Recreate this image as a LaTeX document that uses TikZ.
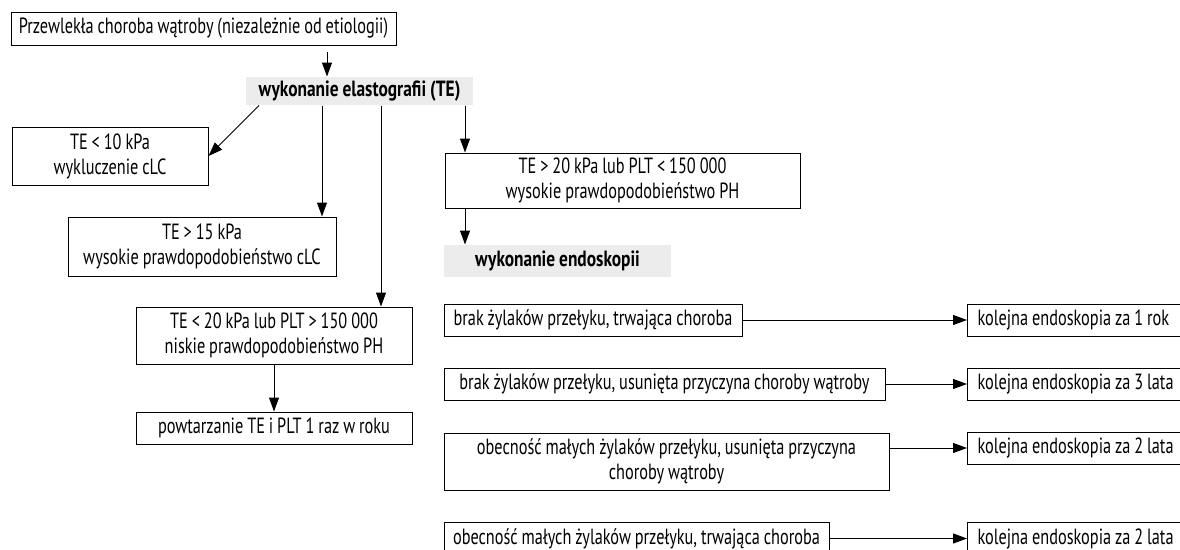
\documentclass[tikz,border=0pt]{standalone}
\usepackage{fontspec}
\setmainfont{PT Sans}[UprightFeatures={FakeStretch=0.74}, BoldFeatures={FakeStretch=0.79}, WordSpace=0.9]
\usetikzlibrary{arrows.meta}
\definecolor{greybg}{RGB}{236,236,236}
\begin{document}
\begin{tikzpicture}[x=1pt,y=-1pt, line width=1pt,
  box/.style={draw, inner sep=0pt, align=center, font=\fontsize{22}{25}\selectfont},
  rbox/.style={draw, inner sep=0pt, anchor=west, minimum width=230pt, minimum height=32pt, font=\fontsize{22}{25}\selectfont},
  grey/.style={fill=greybg, inner sep=0pt, font=\bfseries\fontsize{22}{25}\selectfont},
  arr/.style={-{Triangle[length=14pt,width=10pt]}}]
\useasboundingbox (0,0) rectangle (1180,549);
\clip (0,0) rectangle (1180,549);

\node[box, minimum width=385pt, minimum height=33pt] (b0) at (203.5,28.5) {Przewlekła choroba wątroby (niezależnie od etiologii)};
\node[grey, minimum width=227pt, minimum height=28pt] (te) at (359.5,91) {wykonanie elastografii (TE)};
\node[box, minimum width=196pt, minimum height=58pt] (b10) at (110,156) {TE < 10 kPa\\wykluczenie cLC};
\node[box, minimum width=268pt, minimum height=59pt] (b15) at (202,246.5) {TE > 15 kPa\\wysokie prawdopodobieństwo cLC};
\node[box, minimum width=276pt, minimum height=57pt] (b20l) at (274,335.5) {TE < 20 kPa lub PLT > 150 000\\niskie prawdopodobieństwo PH};
\node[box, minimum width=276pt, minimum height=32pt] (bpow) at (274,428) {powtarzanie TE i PLT 1 raz w roku};
\node[box, minimum width=355pt, minimum height=55pt] (b20h) at (622.5,180.5) {TE > 20 kPa lub PLT < 150 000\\wysokie prawdopodobieństwo PH};
\node[grey, minimum width=227pt, minimum height=32pt] (endo) at (557.5,261) {wykonanie endoskopii};

\node[box, minimum width=298pt, minimum height=32pt] (l1) at (593,320) {brak żylaków przełyku, trwająca choroba};
\node[box, minimum width=441pt, minimum height=32pt] (l2) at (664.5,384) {brak żylaków przełyku, usunięta przyczyna choroby wątroby};
\node[box, minimum width=445pt, minimum height=57pt] (l3) at (666.5,461.5) {obecność małych żylaków przełyku, usunięta przyczyna\\choroby wątroby};
\node[box, minimum width=385pt, minimum height=33pt] (l4) at (636.5,538.5) {obecność małych żylaków przełyku, trwająca choroba};

\node[rbox] (r1) at (967,320) {\makebox[210pt][l]{kolejna endoskopia za 1 rok}};
\node[rbox] (r2) at (967,384) {\makebox[210pt][l]{kolejna endoskopia za 3 lata}};
\node[rbox] (r3) at (967,448) {\makebox[210pt][l]{kolejna endoskopia za 2 lata}};
\node[rbox, minimum height=33pt] (r4) at (967,538.5) {\makebox[210pt][l]{kolejna endoskopia za 2 lata}};

\coordinate (a0) at (327,52);
\coordinate (xd) at (259,0);
\coordinate (x1) at (322,0);
\coordinate (x2) at (381,0);
\coordinate (x3) at (465,0);

\draw[arr] (a0) -- (a0 |- te.north);
\draw[arr] (te.south -| xd) -- (b10.east);
\draw[arr] (te.south -| x1) -- (x1 |- b15.north);
\draw[arr] (te.south -| x2) -- (x2 |- b20l.north);
\draw[arr] (te.south -| x3) -- (x3 |- b20h.north);
\draw[arr] (b20l.south) -- (bpow.north);
\draw[arr] (b20h.south -| x3) -- (x3 |- endo.north);

\draw[arr] (r1.west -| l1.east) -- (r1.west);
\draw[arr] (r2.west -| l2.east) -- (r2.west);
\draw[arr] (r3.west -| l3.east) -- (r3.west);
\draw[arr] (r4.west -| l4.east) -- (r4.west);
\end{tikzpicture}
\end{document}
